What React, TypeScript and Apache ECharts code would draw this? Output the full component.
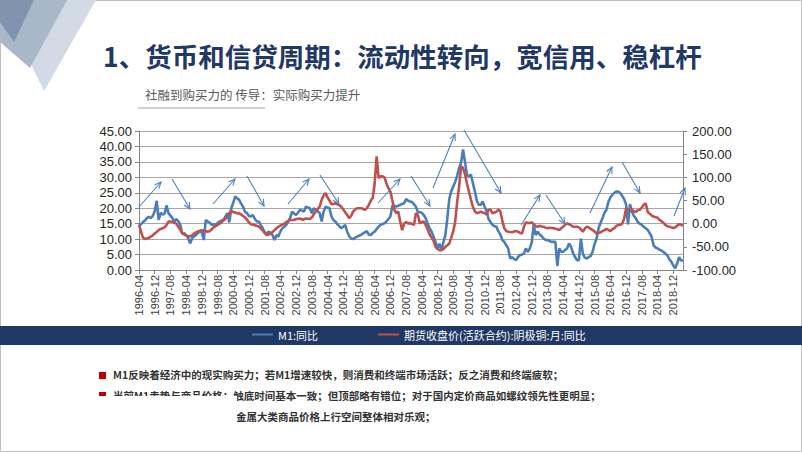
import React, { useEffect, useRef } from "react";
import * as echarts from "echarts";

// Monthly data, 1996-04 .. 2019-05
const START_YEAR = 1996;
const START_MONTH = 4;

// M1: YoY (%), left axis
const m1: number[] = [
  14.3, 14.8, 15.5, 16.0, 16.8, 17.2, 16.8, 17.5, 19.0,
  22.4, 16.2, 18.5, 18.0, 18.2, 20.9, 18.4, 17.6, 16.8, 15.7, 16.5, 15.8,
  14.6, 11.8, 11.9, 11.3, 10.4, 8.6, 10.2, 10.9, 11.3, 12.0, 12.4, 12.2,
  9.7, 16.2, 15.7, 15.3, 14.6, 14.8, 14.6, 15.2, 15.7, 16.0, 16.2, 17.3,
  18.4, 15.4, 20.0, 21.8, 23.8, 23.2, 22.7, 21.5, 20.5, 18.8, 18.4, 17.5,
  17.3, 17.8, 16.5, 15.7, 15.7, 14.5, 13.5, 12.2, 11.8, 12.4, 12.0, 11.3,
  9.7, 11.3, 10.8, 12.5, 13.5, 14.0, 14.6, 15.7, 17.0, 18.9, 18.3, 17.8,
  18.6, 19.5, 19.2, 18.9, 20.5, 20.2, 20.0, 18.4, 20.0, 19.5, 19.0, 18.4,
  15.7, 18.9, 20.5, 20.2, 20.0, 17.3, 16.2, 15.7, 14.8, 14.2, 13.5, 14.0,
  14.6, 12.4, 11.0, 10.2, 10.0, 10.4, 10.8, 11.1, 11.3, 11.8, 12.2, 12.6,
  11.5, 11.3, 12.0, 12.4, 13.3, 14.0, 14.6, 14.9, 15.1, 15.7, 16.5, 17.3,
  20.8, 20.8, 20.5, 20.8, 21.1, 21.4, 21.6, 23.0, 22.4, 22.2, 22.0, 21.3,
  20.5, 18.8, 18.7, 18.5, 17.8, 16.7, 15.0, 13.5, 12.4, 10.8, 9.1, 7.0,
  8.5, 6.4, 9.0, 11.3, 16.7, 23.0, 25.5, 27.0, 28.5, 30.5, 33.0, 34.7,
  39.0, 35.0, 30.8, 30.3, 30.9, 28.2, 25.5, 22.5, 21.1, 21.1, 22.2, 20.5,
  19.0, 16.5, 15.5, 14.6, 14.2, 14.0, 12.5, 11.5, 9.7, 9.1, 8.0, 7.0,
  3.7, 4.2, 3.5, 3.2, 4.2, 4.8, 5.0, 5.3, 7.0, 5.9, 7.0, 9.0,
  14.6, 11.3, 12.4, 11.5, 11.0, 10.2, 9.7, 9.7, 9.4, 9.1, 9.1, 9.1,
  1.3, 7.0, 5.9, 5.9, 6.5, 7.0, 8.6, 7.5, 5.5, 4.2, 3.2, 3.2,
  10.2, 5.3, 4.0, 3.7, 4.2, 4.5, 6.0, 8.5, 10.2, 13.5, 15.2, 16.8,
  18.5, 19.5, 22.0, 23.5, 24.3, 25.0, 25.4, 25.4, 24.9, 24.0, 23.0, 21.3,
  14.8, 21.3, 18.9, 17.5, 16.7, 15.5, 15.0, 14.6, 14.0, 13.5, 13.0, 12.0,
  10.8, 8.0, 7.3, 7.0, 6.6, 6.3, 5.9, 5.3, 4.8, 3.5, 2.7, 1.5,
  0.6, 2.0, 4.2, 3.0, 3.2,
];

// Copper futures close (active contract) YoY (%), right axis
const copper: number[] = [
  -2.7, -16.7, -30, -33.3, -32, -30.7, -28, -25.3, -21.3,
  -18, -14, -11.3, -10, -8, -3.3, 4.7, 4.7, 4, 2, 0, -6.7,
  -13.3, -20.7, -23.3, -25.3, -27.3, -27.3, -25.3, -21.3, -18.7, -16.7, -15.3, -14,
  -15.3, -16, -17.3, -16, -12, -8, -5.3, -2.7, 0, 3.3, 6.7, 10.7,
  15.3, 23.3, 27.3, 25.3, 24, 22.7, 22, 20, 16.7, 13.3, 8.7, 2.7,
  -1.3, -2, -3.3, -4.7, -6.7, -10, -14.7, -20, -24.7, -23.3, -21.3, -18,
  -14, -10, -6.7, -4, -2, 0, 3.3, 6, 8, 8, 8, 10,
  10.7, 11.3, 8.7, 9.3, 11.3, 10.7, 10, 13.3, 20, 26.7, 32, 36.7,
  51.3, 60, 66, 56.7, 50, 42, 42.7, 44, 42, 40, 36.7, 30.7,
  24.7, 18.7, 12, 16.7, 26, 30, 33.3, 33.3, 33.3, 32, 30, 33.3,
  40.7, 49.3, 55.3, 86.7, 145.3, 98.7, 102, 102, 100, 86.7, 76.7, 69.3,
  50, 30, 22.7, 26, 4.7, -14, 0, 3.3, 0.7, 0.7, -0.7, -2.7,
  22.7, 18.7, 0.7, 3.3, 4.7, -2.7, -12, -23.3, -30, -37.3, -50, -54.7,
  -57.3, -57.3, -54.7, -50, -46.7, -42.7, -30, -16.7, 4.7, 46.7, 80, 124,
  120, 106.7, 86.7, 69.3, 52, 36.7, 26.7, 22.7, 24, 26, 24, 22.7,
  20, 30, 30, 22.7, 24, 26, 30, 26.7, 6.7, -10, -16, -17.3,
  -18, -18.7, -16.7, -16, -17.3, -20, -21.3, -6.7, 3.3, 1.3, 1.3, 2.7,
  -1.3, -5.3, -6.7, -4.7, -6, -6.7, -8.7, -10, -8.7, -9.3, -10, -10.7,
  -12, -14, -10, -6.7, -2, 0.7, -1.3, -3.3, -6.7, -6.7, -6.7, -8,
  -12, -17.3, -10.7, -6.7, -8, -11.3, -14, -16.7, -21.3, -20, -18.7, -16,
  -14, -11.3, -13.3, -16, -12, -10, -5.3, -2.7, -2.7, 0, 10, 33.3,
  30.7, 30, 30, 26.7, 25.3, 29.3, 30, 34.7, 40.7, 44, 26, 21.3,
  18, 15.3, 14, 13.3, 8, 5.3, 2, -2.7, -5.3, -6.7, -8, -9.3,
  -8, -4.7, -1.3, -2, -4.7,
];

const categories: string[] = m1.map((_, i) => {
  const t = START_MONTH - 1 + i;
  const y = START_YEAR + Math.floor(t / 12);
  const m = (t % 12) + 1;
  return `${y}-${m < 10 ? "0" + m : m}`;
});

const SERIES_NAMES = ["M1:同比", "期货收盘价(活跃合约):阴极铜:月:同比"];
const LEFT_AXIS = { min: 0, max: 45, interval: 5 };
const RIGHT_AXIS = { min: -100, max: 200, interval: 50 };

const TITLE = "1、货币和信贷周期：流动性转向，宽信用、稳杠杆";
const SUBTITLE = "社融到购买力的 传导：实际购买力提升";
const NOTE1 = "M1反映着经济中的现实购买力；若M1增速较快，则消费和终端市场活跃；反之消费和终端疲软；";
const NOTE2 = "当前M1走势与商品价格：触底时间基本一致；但顶部略有错位；对于国内定价商品如螺纹领先性更明显；";
const NOTE3 = "金属大类商品价格上行空间整体相对乐观；";

// annotation arrows (pixel positions on the slide)
const ARROWS: number[][] = [
  [139, 207, 161, 182], [172, 179, 190, 209],
  [213, 204, 235, 179], [247, 176, 264, 206],
  [288, 204, 309, 179], [320, 175, 339, 204],
  [378, 203, 400, 179], [411, 176, 430, 206],
  [433, 188, 455, 134], [464, 130, 501, 193],
  [521, 225, 540, 195], [546, 195, 565, 224],
  [590, 213, 612, 167], [622, 162, 640, 193],
  [674, 216, 685, 188],
];

const FONT = '"Liberation Sans", Arial, "Noto Sans CJK SC", sans-serif';
const CJK = '"Noto Sans CJK SC", "Liberation Sans", sans-serif';

function arrowHead(x1: number, y1: number, x2: number, y2: number) {
  const a = Math.atan2(y2 - y1, x2 - x1);
  const len = 7;
  const ang = 0.42;
  return [
    [x2 - len * Math.cos(a - ang), y2 - len * Math.sin(a - ang)],
    [x2, y2],
    [x2 - len * Math.cos(a + ang), y2 - len * Math.sin(a + ang)],
  ];
}

export default function App() {
  const ref = useRef<HTMLDivElement>(null);
  useEffect(() => {
    if (!ref.current) return;
    const chart = echarts.init(ref.current, null, { renderer: "svg" });
    const arrowEls: any[] = [];
    ARROWS.forEach(([x1, y1, x2, y2]) => {
      arrowEls.push({
        type: "line",
        z: 50,
        shape: { x1, y1, x2, y2 },
        style: { stroke: "#4f81bd", lineWidth: 1.1 },
      });
      arrowEls.push({
        type: "polyline",
        z: 50,
        shape: { points: arrowHead(x1, y1, x2, y2) },
        style: { stroke: "#4f81bd", lineWidth: 1.1, fill: null },
      });
    });

    const option: any = {
      animation: false,
      backgroundColor: "#ffffff",
      grid: { left: 139, right: 119, top: 131, bottom: 182, containLabel: false },
      legend: {
        left: 252,
        top: 329,
        padding: 0,
        icon: "rect",
        itemWidth: 21,
        itemHeight: 2,
        itemGap: 60,
        textStyle: { color: "#ffffff", fontSize: 11, fontFamily: CJK },
        data: SERIES_NAMES,
      },
      xAxis: {
        type: "category",
        data: categories,
        boundaryGap: false,
        axisLine: { lineStyle: { color: "#868686", width: 1 } },
        axisTick: { show: true, interval: 7, length: 4, lineStyle: { color: "#868686" } },
        axisLabel: {
          interval: 7,
          rotate: 90,
          fontSize: 11,
          color: "#404040",
          fontFamily: FONT,
          margin: 5,
        },
        splitLine: { show: false },
      },
      yAxis: [
        {
          type: "value",
          ...LEFT_AXIS,
          axisLine: { show: true, lineStyle: { color: "#868686" } },
          axisTick: { show: true, length: 4, lineStyle: { color: "#868686" } },
          axisLabel: {
            formatter: (v: number) => v.toFixed(2),
            fontSize: 13,
            color: "#262626",
            fontFamily: FONT,
            margin: 7,
          },
          splitLine: { show: true, lineStyle: { color: "#a6a6a6", width: 1.2 } },
        },
        {
          type: "value",
          ...RIGHT_AXIS,
          position: "right",
          axisLine: { show: true, lineStyle: { color: "#868686" } },
          axisTick: { show: true, length: 4, lineStyle: { color: "#868686" } },
          axisLabel: {
            formatter: (v: number) => v.toFixed(2),
            fontSize: 13,
            color: "#262626",
            fontFamily: FONT,
            margin: 9,
          },
          splitLine: { show: false },
        },
      ],
      series: [
        {
          name: SERIES_NAMES[0],
          type: "line",
          data: m1,
          yAxisIndex: 0,
          showSymbol: false,
          symbol: "none",
          color: "#4a7ebb",
          lineStyle: { color: "#4a7ebb", width: 2.6 },
          z: 3,
        },
        {
          name: SERIES_NAMES[1],
          type: "line",
          data: copper,
          yAxisIndex: 1,
          showSymbol: false,
          symbol: "none",
          color: "#c0504d",
          lineStyle: { color: "#c0504d", width: 2.6 },
          z: 4,
        },
      ],
      graphic: [
        // slide frame decoration
        { type: "polygon", z: -1, shape: { points: [[0, 0], [96, 0], [44, 91]] }, style: { fill: "#d3dae5" } },
        { type: "polygon", z: -1, shape: { points: [[0, 0], [67, 0], [30, 68], [0, 42]] }, style: { fill: "#a9b7cb" } },
        { type: "polygon", z: -1, shape: { points: [[0, 0], [34, 0], [14, 42], [0, 22]] }, style: { fill: "#8193ae" } },
        { type: "rect", z: -2, shape: { x: 0.5, y: 0.5, width: 801, height: 451 }, style: { fill: null, stroke: "#bfbfbf", lineWidth: 1 } },
        {
          type: "text",
          left: 103,
          top: 42,
          style: { text: TITLE, font: `bold 26.5px ${CJK}`, fill: "#1f3864" },
        },
        {
          type: "text",
          left: 145,
          top: 88,
          style: { text: SUBTITLE, font: `12.5px ${CJK}`, fill: "#595959" },
        },
        { type: "line", shape: { x1: 138, y1: 108, x2: 265, y2: 108 }, style: { stroke: "#a6a6a6", lineWidth: 1 } },
        // legend band
        { type: "rect", z: -1, shape: { x: 0, y: 326, width: 802, height: 19 }, style: { fill: "#1f3864" } },
        // notes
        { type: "rect", shape: { x: 99, y: 372, width: 7, height: 7 }, style: { fill: "#c00000" } },
        { type: "text", left: 113, top: 369, style: { text: NOTE1, font: `bold 10.5px ${CJK}`, fill: "#333333" } },
        { type: "rect", shape: { x: 99, y: 392, width: 7, height: 7 }, style: { fill: "#c00000" } },
        { type: "text", left: 113, top: 390, style: { text: NOTE2, font: `bold 10.5px ${CJK}`, fill: "#333333" } },
        { type: "text", left: 236, top: 411, style: { text: NOTE3, font: `bold 10.5px ${CJK}`, fill: "#333333" } },
        { type: "rect", z: 60, shape: { x: 95, y: 396, width: 142, height: 40 }, style: { fill: "#ffffff" } },
        ...arrowEls,
      ],
    };
    chart.setOption(option);
    return () => chart.dispose();
  }, []);
  return (
    <div
      ref={ref}
      style={{ position: "fixed", left: 0, top: 0, width: 802, height: 452, background: "#fff" }}
    />
  );
}
